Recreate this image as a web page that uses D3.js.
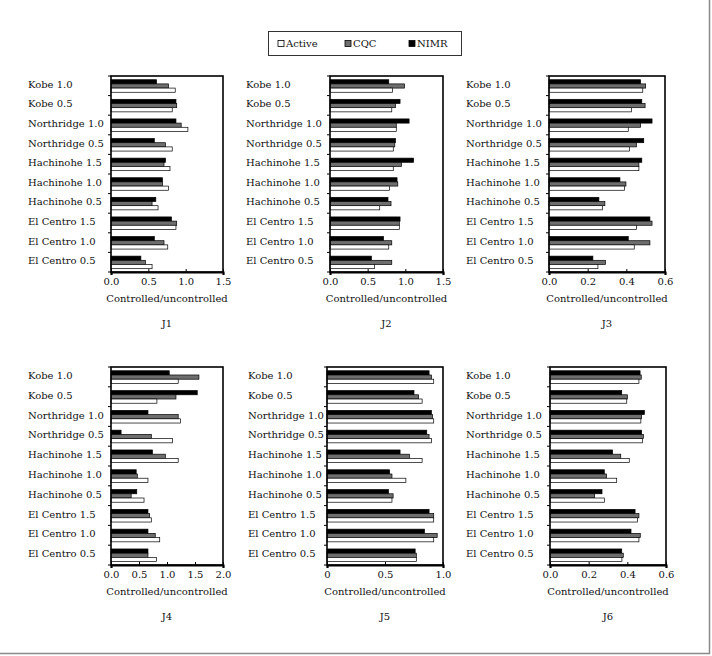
<!DOCTYPE html>
<html>
<head>
<meta charset="utf-8">
<script src="https://cdn.jsdelivr.net/npm/d3@7"></script>
<style>
  body { margin: 0; background: #fff; }
  svg text { font-family: "DejaVu Serif", serif; fill: #111; }
</style>
</head>
<body>
<div id="vis"></div>
<script>
// categories, top to bottom
const categories = ["Kobe 1.0", "Kobe 0.5", "Northridge 1.0", "Northridge 0.5",
  "Hachinohe 1.5", "Hachinohe 1.0", "Hachinohe 0.5",
  "El Centro 1.5", "El Centro 1.0", "El Centro 0.5"];
const seriesNames = ["NIMR", "CQC", "Active"]; // drawing order inside each group
const legendNames = ["Active", "CQC", "NIMR"];

// values (controlled / uncontrolled)
const j1Active = [0.86, 0.82, 1.03, 0.82, 0.79, 0.77, 0.63, 0.87, 0.76, 0.55];
const j1Cqc    = [0.77, 0.88, 0.94, 0.73, 0.71, 0.69, 0.55, 0.88, 0.71, 0.46];
const j1Nimr   = [0.61, 0.87, 0.87, 0.58, 0.73, 0.69, 0.60, 0.81, 0.58, 0.40];

const j2Active = [0.83, 0.82, 0.88, 0.84, 0.84, 0.79, 0.66, 0.92, 0.78, 0.59];
const j2Cqc    = [0.99, 0.87, 0.88, 0.86, 0.95, 0.90, 0.81, 0.92, 0.82, 0.82];
const j2Nimr   = [0.78, 0.93, 1.05, 0.87, 1.11, 0.89, 0.77, 0.93, 0.71, 0.55];

const j3Active = [0.485, 0.427, 0.41, 0.417, 0.465, 0.39, 0.277, 0.453, 0.441, 0.253];
const j3Cqc    = [0.50, 0.497, 0.474, 0.453, 0.465, 0.398, 0.289, 0.533, 0.522, 0.292];
const j3Nimr   = [0.474, 0.48, 0.533, 0.49, 0.48, 0.367, 0.258, 0.522, 0.41, 0.227];

const j4Active = [1.20, 0.82, 1.24, 1.10, 1.20, 0.66, 0.59, 0.72, 0.87, 0.81];
const j4Cqc    = [1.57, 1.16, 1.20, 0.72, 0.97, 0.47, 0.36, 0.69, 0.79, 0.66];
const j4Nimr   = [1.04, 1.54, 0.66, 0.18, 0.74, 0.45, 0.46, 0.66, 0.66, 0.66];

const j5Active = [0.92, 0.82, 0.92, 0.90, 0.82, 0.68, 0.56, 0.92, 0.92, 0.77];
const j5Cqc    = [0.90, 0.79, 0.91, 0.88, 0.71, 0.56, 0.57, 0.92, 0.95, 0.77];
const j5Nimr   = [0.88, 0.75, 0.90, 0.86, 0.63, 0.54, 0.53, 0.88, 0.84, 0.76];

const j6Active = [0.46, 0.397, 0.47, 0.479, 0.41, 0.345, 0.281, 0.452, 0.46, 0.372];
const j6Cqc    = [0.472, 0.40, 0.474, 0.483, 0.366, 0.293, 0.231, 0.46, 0.467, 0.379];
const j6Nimr   = [0.466, 0.371, 0.488, 0.474, 0.324, 0.281, 0.269, 0.44, 0.419, 0.371];

// x axis ticks per panel
const ticks15 = [0, 0.5, 1.0, 1.5];
const ticks06 = [0, 0.2, 0.4, 0.6];
const ticks20 = [0, 0.5, 1.0, 1.5, 2.0];
const ticks10 = [0, 0.5, 1.0];
const ticks10Labels = ["0", "0.5", "1.0"];

const panels = [
  { name: "J1", Active: j1Active, CQC: j1Cqc, NIMR: j1Nimr, ticks: ticks15 },
  { name: "J2", Active: j2Active, CQC: j2Cqc, NIMR: j2Nimr, ticks: ticks15 },
  { name: "J3", Active: j3Active, CQC: j3Cqc, NIMR: j3Nimr, ticks: ticks06 },
  { name: "J4", Active: j4Active, CQC: j4Cqc, NIMR: j4Nimr, ticks: ticks20 },
  { name: "J5", Active: j5Active, CQC: j5Cqc, NIMR: j5Nimr, ticks: ticks10, labels: ticks10Labels },
  { name: "J6", Active: j6Active, CQC: j6Cqc, NIMR: j6Nimr, ticks: ticks06 }
];

// frame placement of each panel (pixels)
const layout = [
  { x0: 111, x1: 223, y0: 76, y1: 272, lx: 28 },
  { x0: 330, x1: 443, y0: 76, y1: 272, lx: 246 },
  { x0: 549, x1: 665, y0: 76, y1: 272, lx: 466 },
  { x0: 111, x1: 223, y0: 367, y1: 565, lx: 28 },
  { x0: 327, x1: 443, y0: 367, y1: 565, lx: 248 },
  { x0: 550, x1: 666, y0: 367, y1: 565, lx: 466 }
];

const fills = { Active: "#ffffff", CQC: "#6e6e6e", NIMR: "#000000" };

const svg = d3.select("#vis").append("svg")
  .attr("width", 712)
  .attr("height", 656);

// outer figure frame (right and bottom edges visible)
svg.append("path")
  .attr("d", "M709.5,0 V653.5 H0")
  .attr("fill", "none")
  .attr("stroke", "#8a8a8a")
  .attr("stroke-width", 1.5);

// legend
const legend = svg.append("g");
legend.append("rect")
  .attr("x", 268.5).attr("y", 31.5)
  .attr("width", 193).attr("height", 24)
  .attr("fill", "#fff").attr("stroke", "#333").attr("stroke-width", 1);
const legendX = [278, 345, 409];
legendNames.forEach((s, i) => {
  legend.append("rect")
    .attr("x", legendX[i]).attr("y", 40.5)
    .attr("width", 6).attr("height", 6)
    .attr("fill", fills[s]).attr("stroke", "#000").attr("stroke-width", 0.8);
  legend.append("text")
    .attr("x", legendX[i] + 8).attr("y", 47)
    .attr("font-size", "10px")
    .text(s);
});

panels.forEach((p, i) => {
  const L = layout[i];
  const g = svg.append("g");

  const x = d3.scaleLinear()
    .domain([0, d3.max(p.ticks)])
    .range([L.x0, L.x1]);

  const y = d3.scaleBand()
    .domain(categories)
    .range([L.y0, L.y1]);

  const inner = d3.scaleBand()
    .domain(seriesNames)
    .range([y.bandwidth() * 0.19, y.bandwidth() * 0.83]);

  // bars
  categories.forEach((c, k) => {
    seriesNames.forEach(s => {
      g.append("rect")
        .attr("x", x(0))
        .attr("y", y(c) + inner(s))
        .attr("width", x(p[s][k]) - x(0))
        .attr("height", inner.bandwidth())
        .attr("fill", fills[s])
        .attr("stroke", "#000")
        .attr("stroke-width", 0.7);
    });
  });

  // frame
  g.append("rect")
    .attr("x", L.x0).attr("y", L.y0)
    .attr("width", L.x1 - L.x0).attr("height", L.y1 - L.y0)
    .attr("fill", "none").attr("stroke", "#000").attr("stroke-width", 1.6);

  // left ticks at group boundaries
  const bounds = d3.range(categories.length + 1).map(k => L.y0 + k * y.step());
  g.selectAll("line.ytick")
    .data(bounds)
    .join("line")
    .attr("x1", L.x0 - 3).attr("x2", L.x0)
    .attr("y1", d => d).attr("y2", d => d)
    .attr("stroke", "#000").attr("stroke-width", 1);

  // category labels
  g.selectAll("text.cat")
    .data(categories)
    .join("text")
    .attr("x", L.lx)
    .attr("y", d => y(d) + y.bandwidth() / 2)
    .attr("dy", "0.2em")
    .attr("font-size", "10px")
    .text(d => d);

  // x axis
  const axis = d3.axisBottom(x)
    .tickValues(p.ticks)
    .tickSize(3)
    .tickSizeInner(-3)
    .tickPadding(6)
    .tickFormat((d, j) => p.labels ? p.labels[j] : d3.format(".1f")(d));
  const ax = g.append("g")
    .attr("transform", `translate(0,${L.y1})`)
    .call(axis);
  ax.select(".domain").attr("stroke-width", 2.2);
  ax.selectAll("text")
    .attr("font-family", "DejaVu Serif, serif")
    .attr("font-size", "10px")
    .attr("fill", "#111");

  // axis title and panel name
  const cx = (L.x0 + L.x1) / 2;
  g.append("text")
    .attr("x", cx).attr("y", L.y1 + 30)
    .attr("text-anchor", "middle")
    .attr("font-size", "10px")
    .text("Controlled/uncontrolled");
  g.append("text")
    .attr("x", cx).attr("y", L.y1 + 55)
    .attr("text-anchor", "middle")
    .attr("font-size", "10px")
    .text(p.name);
});
</script>
</body>
</html>
